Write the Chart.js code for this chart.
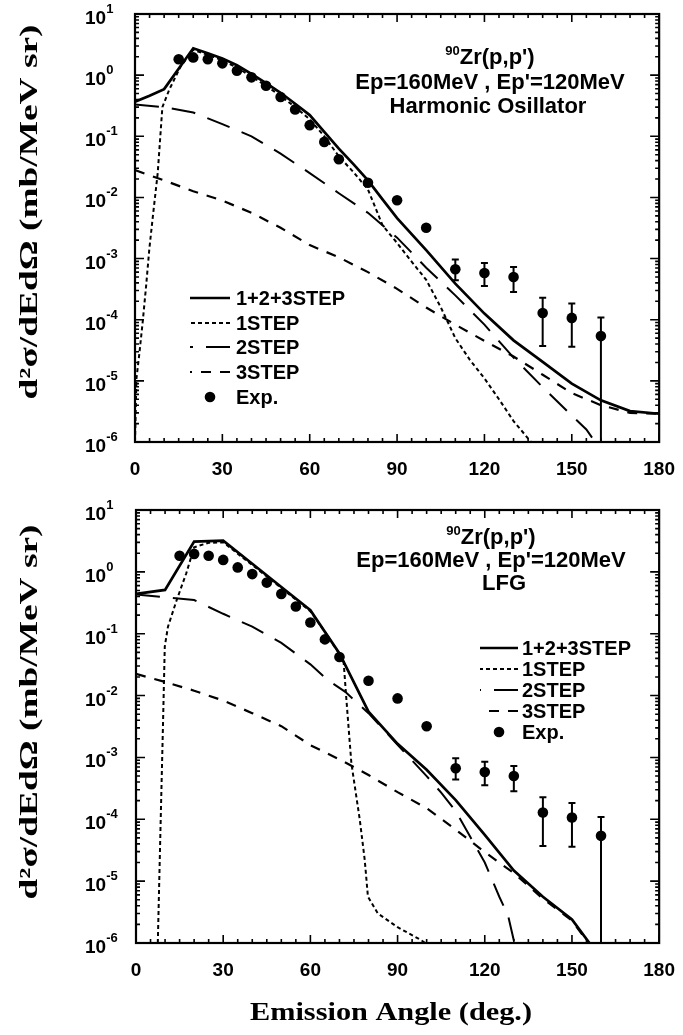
<!DOCTYPE html>
<html>
<head>
<meta charset="utf-8">
<script src="https://cdn.jsdelivr.net/npm/chart.js@4.4.0/dist/chart.umd.min.js"></script>
<style>
  html, body { margin: 0; padding: 0; background: #fff; }
  #wrap { position: relative; width: 683px; height: 1035px; }
  canvas { position: absolute; left: 0; }
  #c1 { top: 0; }
  #c2 { top: 500px; }
</style>
</head>
<body>
<div id="wrap">
  <canvas id="c1" width="683" height="500"></canvas>
  <canvas id="c2" width="683" height="535"></canvas>
</div>
<script>
// axis ticks
var xTicks = [0, 30, 60, 90, 120, 150, 180];
var yTicks = [1e-6, 1e-5, 1e-4, 1e-3, 1e-2, 1e-1, 1, 10];
var yTickExps = ["-6", "-5", "-4", "-3", "-2", "-1", "0", "1"];
var seriesLabels = ["1+2+3STEP", "1STEP", "2STEP", "3STEP", "Exp."];

// experiment (same in both panels)
var expAngle = [15, 20, 25, 30, 35, 40, 45, 50, 55, 60, 65, 70, 80, 90, 100, 110, 120, 130, 140, 150, 160];
var expValue = [1.82, 1.95, 1.82, 1.56, 1.18, 0.92, 0.67, 0.44, 0.275, 0.152, 0.081, 0.042, 0.0174, 0.009, 0.0032,
                6.7e-4, 5.8e-4, 5.0e-4, 1.29e-4, 1.07e-4, 5.4e-5];
var expErrLow = [null, null, null, null, null, null, null, null, null, null, null, null, null, null, null,
                 4.4e-4, 3.55e-4, 2.85e-4, 3.7e-5, 3.6e-5, 1e-7];
var expErrHigh = [null, null, null, null, null, null, null, null, null, null, null, null, null, null, null,
                  9.7e-4, 8.5e-4, 7.3e-4, 2.28e-4, 1.84e-4, 1.09e-4];

// harmonic oscillator panel
var hoTotalAngle = [0, 5, 10, 20, 25, 30, 35, 40, 45, 50, 55, 60, 65, 70, 75, 80, 85, 90, 100, 110, 120, 130, 140, 150, 160, 170, 180];
var hoTotalValue = [0.367, 0.46, 0.59, 2.75, 2.28, 1.88, 1.45, 1.05, 0.74, 0.515, 0.34, 0.222, 0.118, 0.063, 0.035, 0.019, 0.0093, 0.0046,
                    1.37e-3, 3.9e-4, 1.26e-4, 4.6e-5, 2.04e-5, 9.0e-6, 4.8e-6, 3.2e-6, 2.9e-6];
var ho1Angle = [0, 0.5, 1.5, 2.7, 3.8, 4.9, 6, 7.8, 9.4, 11.7, 15.6, 20, 25, 30, 35, 40, 45, 50, 55, 60, 65, 70, 75, 80, 85,
                90, 95, 100, 105, 110, 115, 120, 125, 130, 136];
var ho1Value = [1e-6, 1.1e-5, 2.8e-5, 9.8e-5, 3.5e-4, 1.4e-3, 4.3e-3, 0.025, 0.30, 0.57, 1.37, 2.6, 2.15, 1.75, 1.33, 0.95, 0.67, 0.46, 0.30,
                0.19, 0.10, 0.047, 0.026, 0.0135, 3.5e-3, 1.8e-3, 8.9e-4, 4.5e-4, 1.6e-4, 5.0e-5, 2.2e-5, 1.1e-5, 5.0e-6, 2.2e-6, 1.0e-6];
var ho2Angle = [0, 10, 20, 30, 40, 50, 60, 70, 80, 90, 100, 110, 120, 130, 140, 150, 155, 158, 161];
var ho2Value = [0.33, 0.30, 0.245, 0.158, 0.10, 0.052, 0.025, 0.0117, 0.0056, 2.2e-3, 7.1e-4, 2.5e-4, 8.3e-5, 2.4e-5, 7.9e-6,
                2.7e-6, 1.6e-6, 1.0e-6, 5e-7];
var ho3Angle = [0, 10, 20, 30, 40, 50, 60, 70, 80, 90, 100, 110, 120, 130, 140, 150, 160, 170, 180];
var ho3Value = [0.028, 0.019, 0.0126, 0.0089, 5.6e-3, 3.2e-3, 1.66e-3, 1.05e-3, 6.0e-4, 3.2e-4, 1.58e-4, 8.3e-5, 4.5e-5, 2.5e-5,
                1.26e-5, 6.3e-6, 4.0e-6, 3.0e-6, 2.9e-6];

// local fermi gas panel
var lfgTotalAngle = [0, 10, 20, 30, 40, 50, 60, 70, 80, 90, 100, 110, 120, 130, 140, 150, 156, 158];
var lfgTotalValue = [0.44, 0.51, 3.08, 3.19, 1.35, 0.57, 0.24, 0.048, 5.5e-3, 1.66e-3, 6.3e-4, 2.04e-4, 5.6e-5, 1.48e-5, 5.6e-6,
                     2.4e-6, 1.0e-6, 7e-7];
var lfg1Angle = [7.5, 8.4, 9.3, 9.9, 11, 14, 17.3, 20, 25, 30, 40, 50, 60, 65, 70, 71.3, 72.4, 74.1, 77, 78.7, 79.8, 83.2, 90, 98, 101];
var lfg1Value = [1e-6, 6.3e-5, 3.6e-3, 0.062, 0.13, 0.35, 0.95, 2.5, 2.95, 3.0, 1.29, 0.55, 0.23, 0.107, 0.047, 0.043, 8.5e-3,
                 8.1e-4, 9.8e-5, 2.2e-5, 5.6e-6, 3.0e-6, 1.8e-6, 1.12e-6, 9e-7];
var lfg2Angle = [0, 10, 20, 30, 40, 50, 60, 66, 72, 80, 90, 100, 105, 110, 115, 120, 125, 128, 130, 131];
var lfg2Value = [0.43, 0.39, 0.35, 0.21, 0.13, 0.071, 0.032, 0.0178, 0.0115, 5.2e-3, 1.6e-3, 5.0e-4, 2.7e-4, 1.35e-4, 5.2e-5,
                 2.0e-5, 5.6e-6, 2.8e-6, 1.1e-6, 6e-7];
var lfg3Angle = [0, 10, 20, 30, 40, 50, 60, 70, 80, 90, 100, 110, 120, 130, 140, 150, 155, 158];
var lfg3Value = [0.0224, 0.0166, 0.012, 8.3e-3, 5.2e-3, 3.2e-3, 1.58e-3, 9.3e-4, 5.2e-4, 2.75e-4, 1.51e-4, 6.8e-5, 2.95e-5,
                 1.35e-5, 5.2e-6, 2.3e-6, 1.1e-6, 8e-7];

var SANS = '"Liberation Sans", Arial, Helvetica, sans-serif';
var SERIF = '"Liberation Serif", "Times New Roman", serif';

function points(xs, ys) {
  return xs.map(function (x, i) { return { x: x, y: ys[i] }; });
}

function curve(label, xs, ys, dash, width) {
  return {
    label: label,
    data: points(xs, ys),
    borderColor: "#000",
    borderWidth: width,
    borderDash: dash,
    pointRadius: 0,
    fill: false,
    tension: 0
  };
}

function expSet() {
  return {
    label: seriesLabels[4],
    data: points(expAngle, expValue),
    showLine: false,
    pointRadius: 5.3,
    pointBackgroundColor: "#000",
    pointBorderColor: "#000",
    pointBorderWidth: 0
  };
}

function drawFrame(chart) {
  var ctx = chart.ctx, a = chart.chartArea;
  var xs = chart.scales.x, ys = chart.scales.y;
  ctx.save();
  ctx.strokeStyle = "#000";
  ctx.lineWidth = 1.6;
  ctx.beginPath();
  for (var d = 0; d <= 180; d += 5) {
    var px = xs.getPixelForValue(d);
    var len = d % 30 === 0 ? 8 : 4;
    ctx.moveTo(px, a.bottom); ctx.lineTo(px, a.bottom - len);
    ctx.moveTo(px, a.top); ctx.lineTo(px, a.top + len);
  }
  for (var e = -6; e <= 1; e++) {
    for (var m = 1; m <= 9; m++) {
      if (e === 1 && m > 1) break;
      var py = ys.getPixelForValue(m * Math.pow(10, e));
      var l = m === 1 ? 9 : 4;
      ctx.moveTo(a.left, py); ctx.lineTo(a.left + l, py);
      ctx.moveTo(a.right, py); ctx.lineTo(a.right - l, py);
    }
  }
  ctx.stroke();
  ctx.lineWidth = 2.2;
  ctx.strokeRect(a.left, a.top, a.right - a.left, a.bottom - a.top);
  ctx.restore();
}

function drawErrorBars(chart) {
  var ctx = chart.ctx, a = chart.chartArea;
  var xs = chart.scales.x, ys = chart.scales.y;
  ctx.save();
  ctx.beginPath();
  ctx.rect(a.left, a.top, a.right - a.left, a.bottom - a.top);
  ctx.clip();
  ctx.strokeStyle = "#000";
  ctx.lineWidth = 2;
  ctx.beginPath();
  expAngle.forEach(function (ang, i) {
    if (expErrLow[i] === null) return;
    var px = xs.getPixelForValue(ang);
    var lo = ys.getPixelForValue(expErrLow[i]);
    var hi = ys.getPixelForValue(expErrHigh[i]);
    ctx.moveTo(px, lo); ctx.lineTo(px, hi);
    ctx.moveTo(px - 3.5, hi); ctx.lineTo(px + 3.5, hi);
    if (lo < a.bottom) { ctx.moveTo(px - 3.5, lo); ctx.lineTo(px + 3.5, lo); }
  });
  ctx.stroke();
  ctx.restore();
}

function drawYLabels(chart) {
  var ctx = chart.ctx, ys = chart.scales.y;
  ctx.save();
  ctx.fillStyle = "#000";
  ctx.textAlign = "left";
  ctx.textBaseline = "alphabetic";
  yTicks.forEach(function (v, i) {
    var py = ys.getPixelForValue(v);
    ctx.font = "bold 19px " + SANS;
    ctx.fillText("10", 85, py + 10);
    var w = ctx.measureText("10").width;
    ctx.font = "bold 13px " + SANS;
    ctx.fillText(yTickExps[i], 85 + w, py - 1);
  });
  ctx.restore();
}

function drawYTitle(chart, cy) {
  var ctx = chart.ctx;
  var txt = "d\u00b2\u03c3/dEd\u03a9 (mb/MeV sr)";
  ctx.save();
  ctx.fillStyle = "#000";
  ctx.font = "bold 25px " + SERIF;
  var w = ctx.measureText(txt).width;
  ctx.translate(37, cy);
  ctx.rotate(-Math.PI / 2);
  ctx.scale(375 / w, 1);
  ctx.textAlign = "center";
  ctx.textBaseline = "alphabetic";
  ctx.fillText(txt, 0, 0);
  ctx.restore();
}

function drawXTitle(chart, spec) {
  var ctx = chart.ctx;
  var txt = "Emission Angle (deg.)";
  ctx.save();
  ctx.fillStyle = "#000";
  ctx.font = "bold 26px " + SERIF;
  var w = ctx.measureText(txt).width;
  ctx.translate(spec.x, spec.baseline);
  ctx.scale(spec.width / w, 1);
  ctx.textAlign = "left";
  ctx.fillText(txt, 0, 0);
  ctx.restore();
}

function drawTexts(chart, t) {
  var ctx = chart.ctx;
  ctx.save();
  ctx.fillStyle = "#000";
  ctx.textBaseline = "alphabetic";
  // 90Zr(p,p') with superscript mass number
  ctx.font = "bold 13px " + SANS;
  var wSup = ctx.measureText("90").width;
  ctx.font = "bold 22px " + SANS;
  var wMain = ctx.measureText("Zr(p,p')").width;
  var x0 = t.cx - (wSup + wMain) / 2;
  ctx.textAlign = "left";
  ctx.font = "bold 13px " + SANS;
  ctx.fillText("90", x0, t.rows[0] - 9);
  ctx.font = "bold 22px " + SANS;
  ctx.fillText("Zr(p,p')", x0 + wSup, t.rows[0]);
  ctx.textAlign = "center";
  ctx.fillText("Ep=160MeV , Ep'=120MeV", t.cx, t.rows[1]);
  ctx.fillText(t.model, t.modelX, t.rows[2]);
  ctx.restore();
}

function drawLegend(chart, lg) {
  var ctx = chart.ctx;
  var sets = chart.data.datasets;
  ctx.save();
  ctx.strokeStyle = "#000";
  ctx.fillStyle = "#000";
  for (var i = 0; i < 4; i++) {
    var ds = sets[i];
    var y = lg.rows[i];
    ctx.setLineDash(ds.borderDash || []);
    ctx.lineDashOffset = 0;
    ctx.lineWidth = ds.borderWidth;
    ctx.beginPath();
    ctx.moveTo(lg.x1, y);
    ctx.lineTo(lg.x0, y);
    ctx.stroke();
  }
  ctx.setLineDash([]);
  ctx.beginPath();
  ctx.arc((lg.x0 + lg.x1) / 2, lg.rows[4], 5.3, 0, Math.PI * 2);
  ctx.fill();
  ctx.font = "bold 20px " + SANS;
  ctx.textAlign = "left";
  ctx.textBaseline = "alphabetic";
  for (var k = 0; k < 5; k++) {
    ctx.fillText(seriesLabels[k], lg.textX, lg.rows[k] + 7);
  }
  ctx.restore();
}

function makePanel(id, height, area, datasets, panel) {
  var decor = {
    id: "decor",
    afterDatasetsDraw: function (chart) {
      drawErrorBars(chart);
      drawFrame(chart);
    },
    afterDraw: function (chart) {
      drawYLabels(chart);
      drawYTitle(chart, panel.yTitleCy);
      drawTexts(chart, panel.texts);
      drawLegend(chart, panel.legend);
      if (panel.xTitle) drawXTitle(chart, panel.xTitle);
    }
  };
  return new Chart(document.getElementById(id), {
    type: "line",
    data: { datasets: datasets },
    plugins: [decor],
    options: {
      responsive: false,
      animation: false,
      layout: { padding: { left: 0, right: 683 - area.right, top: area.top, bottom: 0 } },
      plugins: { legend: { display: false }, tooltip: { enabled: false } },
      scales: {
        x: {
          type: "linear",
          min: 0,
          max: 180,
          grid: { display: false },
          border: { display: false },
          ticks: {
            color: "#000",
            font: { family: SANS, size: 19, weight: "bold" },
            padding: 8,
            maxRotation: 0,
            autoSkip: false
          },
          afterBuildTicks: function (s) {
            s.ticks = xTicks.map(function (v) { return { value: v }; });
          },
          afterFit: function (s) { s.height = height - area.bottom; }
        },
        y: {
          type: "logarithmic",
          min: 1e-6,
          max: 10,
          grid: { display: false },
          border: { display: false },
          ticks: { display: false },
          afterBuildTicks: function (s) {
            s.ticks = yTicks.map(function (v) { return { value: v }; });
          },
          afterFit: function (s) { s.width = area.left; }
        }
      }
    }
  });
}

var SOLID = [], DOT = [4, 3], LONG = [24, 13], DASH = [10, 9];

makePanel("c1", 500, { left: 135, right: 664, top: 14, bottom: 442 }, [
  curve(seriesLabels[0], hoTotalAngle, hoTotalValue, SOLID, 2.7),
  curve(seriesLabels[1], ho1Angle, ho1Value, DOT, 2),
  curve(seriesLabels[2], ho2Angle, ho2Value, LONG, 2),
  curve(seriesLabels[3], ho3Angle, ho3Value, DASH, 2.2),
  expSet()
], {
  yTitleCy: 212,
  texts: { cx: 490, rows: [64, 89, 113], model: "Harmonic Osillator", modelX: 488 },
  legend: { x0: 190, x1: 230, textX: 236, rows: [298, 323, 347, 372, 397] }
});

makePanel("c2", 535, { left: 136, right: 664, top: 10, bottom: 443 }, [
  curve(seriesLabels[0], lfgTotalAngle, lfgTotalValue, SOLID, 2.7),
  curve(seriesLabels[1], lfg1Angle, lfg1Value, DOT, 2),
  curve(seriesLabels[2], lfg2Angle, lfg2Value, LONG, 2),
  curve(seriesLabels[3], lfg3Angle, lfg3Value, DASH, 2.2),
  expSet()
], {
  yTitleCy: 212,
  texts: { cx: 491, rows: [44, 67, 90], model: "LFG", modelX: 504 },
  legend: { x0: 480, x1: 518, textX: 522, rows: [148, 169, 190, 211, 232] },
  xTitle: { x: 250, baseline: 520, width: 282 }
});
</script>
</body>
</html>
